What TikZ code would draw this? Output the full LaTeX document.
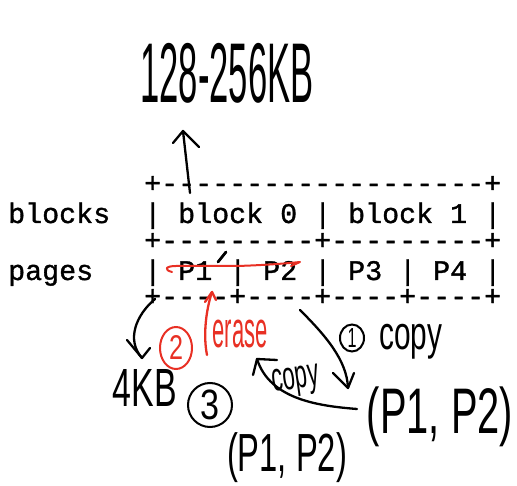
\documentclass[tikz,border=0pt]{standalone}
\usepackage{fontspec}
\usepackage{graphicx}
\usetikzlibrary{shapes.geometric}
\newfontfamily\monof[FakeBold=1.2]{Liberation Mono}
\newfontfamily\handf{Liberation Sans}
\definecolor{inkred}{RGB}{232,48,36}
\newcommand{\hwbox}[3]{\resizebox*{#1}{#2}{\handf #3}}
\tikzset{
  ascii/.style={inner sep=0pt, anchor=base west, text height=17pt, text depth=3pt,
    font=\monof\fontsize{28.33}{30}\selectfont},
  hand/.style={inner sep=0pt, anchor=center},
  ink/.style={line width=2.3pt, line cap=round, line join=round},
  redink/.style={ink, draw=inkred},
  ringnum/.style={ellipse, draw, line width=2pt, inner sep=0pt},
}
\begin{document}
\begin{tikzpicture}[x=1pt, y=-1pt]
\useasboundingbox (0,0) rectangle (517,486);
% ASCII table
\node[ascii] (l1) at (144,192.5) {+-------------------+};
\node[ascii] (lb) at (8,223) {blocks};
\node[ascii] (l2) at (144,223) {| block 0 | block 1 |};
\node[ascii] (l3) at (144,249.5) {+---------+---------+};
\node[ascii] (lp) at (8,280) {pages};
\node[ascii] (l4) at (144,280) {| P1 | P2 | P3 | P4 |};
\node[ascii] (l5) at (144,305.5) {+----+----+----+----+};
% handwritten texts
\node[hand] (kb) at (227,73) {\hwbox{173pt}{60pt}{128-256KB}};
\node[hand] (fourkb) at (145,388) {\hwbox{64pt}{37pt}{4KB}};
\node[hand, text=inkred] (erase) at (240,334) {\hwbox{55pt}{28pt}{erase}};
\node[hand] (copyA) at (411,342) {\hwbox{63pt}{35pt}{copy}};
\node[hand, rotate=8] (copyB) at (296,382) {\hwbox{47pt}{30pt}{copy}};
\node[hand] (pairA) at (440,417) {\hwbox{146pt}{60pt}{(P1, P2)}};
\node[hand] (pairB) at (287,458) {\hwbox{120pt}{50pt}{(P1, P2)}};
% circled numbers
\node[ringnum, minimum width=24pt, minimum height=27pt] (one) at (352,338) {\hwbox{9pt}{19pt}{1}};
\node[ringnum, draw=inkred, text=inkred, minimum width=32pt, minimum height=42pt] (two) at (176,348) {\hwbox{14pt}{24pt}{2}};
\node[ringnum, minimum width=44pt, minimum height=44pt] (three) at (210,405) {\hwbox{19pt}{30pt}{3}};
% arrow to block size
\coordinate (a1s) at (190,193);
\coordinate (a1t) at (183,131);
\draw[ink] (a1s) -- (a1t);
\draw[ink] (173,143) -- (a1t) -- (199,147);
% tick near P1
\coordinate (tk1) at (218,262);
\coordinate (tk2) at (226,252);
\draw[ink, line width=2.8pt] (tk1) -- (tk2);
% red strike-through
\coordinate (st1) at (172,272);
\coordinate (st2) at (300,262);
\draw[redink, line width=2pt] (st1) .. controls (164,270) and (165,266) .. (176,266)
   -- (237,266) .. controls (270,265) and (290,263) .. (st2) -- (291,266);
% red erase arrow
\coordinate (e1) at (207,355);
\coordinate (e2) at (212,292);
\draw[redink] (e1) .. controls (203,335) and (206,310) .. (e2);
\draw[redink] (205,302) -- (e2) -- (216,300);
% arrow to 4KB
\coordinate (k1) at (155,299);
\coordinate (k2) at (142,358);
\draw[ink] (k1) .. controls (136,315) and (126,340) .. (k2);
\draw[ink] (127,340) -- (k2) -- (150,348);
% copy 1 arrow
\coordinate (c1) at (300,310);
\coordinate (c2) at (348,388);
\draw[ink] (c1) .. controls (325,335) and (347,360) .. (c2);
\draw[ink] (333,373) -- (c2) -- (354,373);
% copy back arrow
\coordinate (b1) at (357,409);
\coordinate (b2) at (257,359);
\draw[ink] (b1) .. controls (320,406) and (270,400) .. (b2);
\draw[ink] (253,375) -- (b2) -- (277,360);
\end{tikzpicture}
\end{document}
